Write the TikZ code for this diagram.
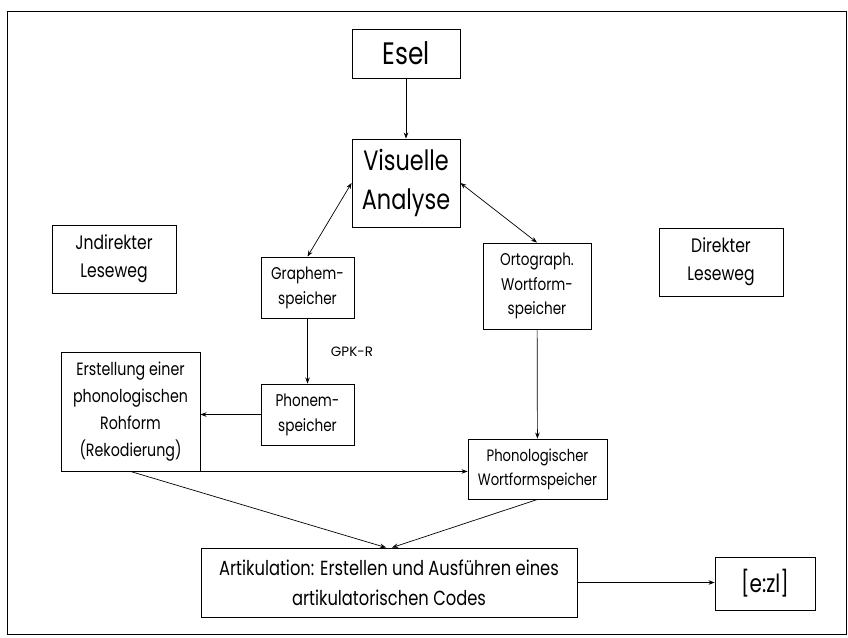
\documentclass[tikz,border=0pt]{standalone}
\usepackage{fontspec}
\setmainfont{Poppins}[FakeStretch=0.8]
\newfontfamily\widefont{Poppins}
\usetikzlibrary{arrows.meta}
\tikzset{
  box/.style={draw, line width=0.9pt, align=center, inner sep=0pt, font=\fontsize{17}{25}\selectfont},
  conn/.style={line width=0.7pt, -{Stealth[length=6pt,width=4.5pt]}},
  both/.style={line width=0.7pt, {Stealth[length=6pt,width=4.5pt]}-{Stealth[length=6pt,width=4.5pt]}},
}
\begin{document}
\begin{tikzpicture}[x=1pt,y=-1pt]
\useasboundingbox (0,0) rectangle (848,637);
\draw[line width=1pt] (7,11) rectangle (846.5,634);
\node[box, minimum width=108pt, minimum height=49pt, font=\fontsize{31}{32}\selectfont] (esel) at (406,53.5) {Esel};
\node[box, minimum width=108pt, minimum height=88pt, font=\fontsize{28}{39}\selectfont] (vis) at (406,183) {Visuelle\\Analyse};
\node[box, minimum width=124pt, minimum height=68pt, font=\fontsize{19.5}{28}\selectfont] (ind) at (114,259) {Jndirekter\\Leseweg};
\node[box, minimum width=124pt, minimum height=68pt, font=\fontsize{19.5}{28}\selectfont] (dir) at (721,262) {Direkter\\Leseweg};
\node[box, minimum width=93pt, minimum height=61pt] (graph) at (307.5,287.5) {Graphem-\\speicher};
\node[box, minimum width=108pt, minimum height=86pt, font=\fontsize{17}{24.5}\selectfont] (orto) at (537,286) {Ortograph.\\Wortform-\\speicher};
\node[box, minimum width=93pt, minimum height=61pt] (phon) at (307.5,414.5) {Phonem-\\speicher};
\node[box, minimum width=139pt, minimum height=119pt, font=\fontsize{17.8}{27}\selectfont] (erst) at (130.5,411.5) {Erstellung einer\\phonologischen\\Rohform\\(Rekodierung)};
\node[box, minimum width=139pt, minimum height=60pt, font=\fontsize{16.5}{24}\selectfont] (phwf) at (537.5,469) {Phonologischer\\Wortformspeicher};
\node[box, minimum width=376pt, minimum height=69pt, font=\fontsize{20.4}{30}\selectfont] (art) at (389,582.5) {Artikulation: Erstellen und Ausführen eines\\artikulatorischen Codes};
\node[box, minimum width=100pt, minimum height=53pt, font=\fontsize{25}{30}\selectfont] (ezl) at (765,583.5) {[e:zl]};
\node[font=\widefont\fontsize{13.5}{15}\selectfont] (gpk) at (352,352) {GPK-R};
\draw[conn] (esel) -- (vis);
\draw[both] (vis.west) -- (graph.north);
\draw[both] (vis.east) -- (orto.north);
\draw[conn] (graph) -- (phon);
\draw[conn] (phon.west) -- (erst.east |- phon.west);
\draw[conn] (erst.south east) -- (erst.south east -| phwf.west);
\draw[conn] (orto) -- (phwf);
\draw[conn] (erst.south) -- ([xshift=-3pt]art.north);
\draw[conn] (phwf.south) -- ([xshift=3pt]art.north);
\draw[conn] (art.east) -- (ezl.west |- art.east);
\end{tikzpicture}
\end{document}
